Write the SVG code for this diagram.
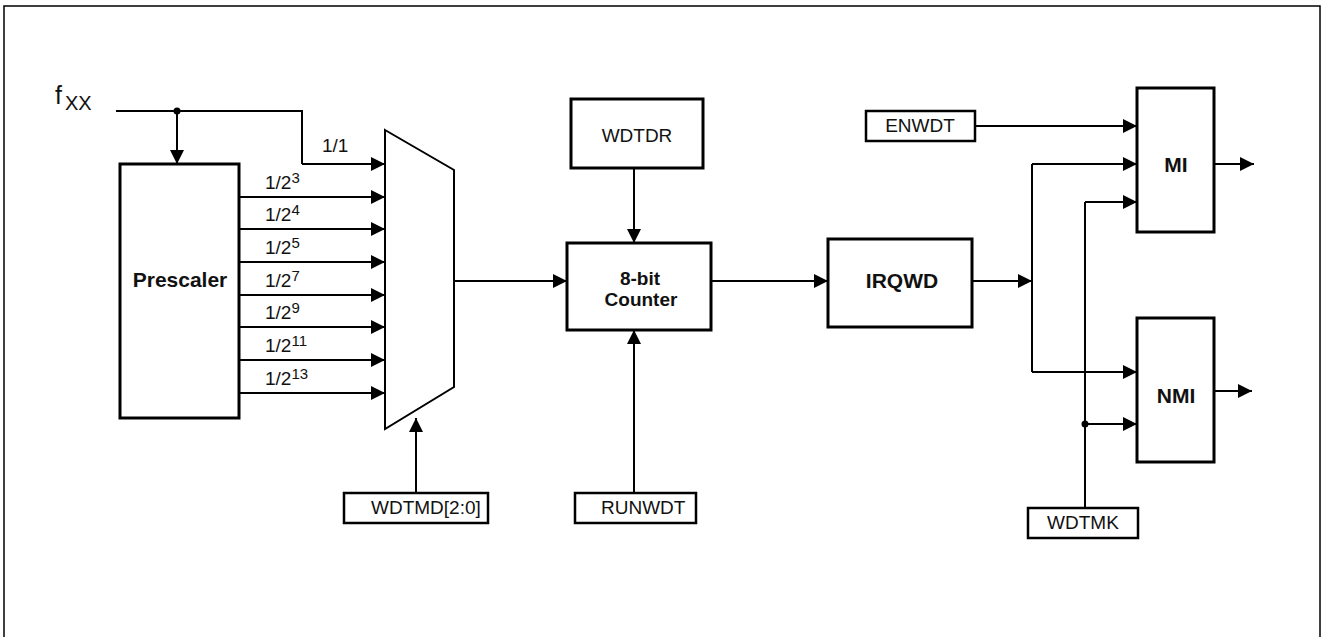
<svg xmlns="http://www.w3.org/2000/svg" width="1322" height="637" viewBox="0 0 1322 637">
<defs>
<marker id="ah" markerUnits="userSpaceOnUse" markerWidth="14" markerHeight="14" refX="14" refY="7" orient="auto">
<path d="M0,0 L14,7 L0,14 z" fill="#000"/>
</marker>
<style>
.box{fill:#fff;stroke:#000;stroke-width:3}
.sbox{fill:#fff;stroke:#000;stroke-width:2.5}
.ln{fill:none;stroke:#000;stroke-width:2}
.ar{fill:none;stroke:#000;stroke-width:2;marker-end:url(#ah)}
.t{font-family:"Liberation Sans",Arial,sans-serif;font-size:19px;fill:#111}
.tl{font-family:"Liberation Sans",Arial,sans-serif;font-size:19px;fill:#111}
.b{font-family:"Liberation Sans",Arial,sans-serif;font-size:21px;font-weight:bold;fill:#111;text-anchor:middle}
.b19{font-family:"Liberation Sans",Arial,sans-serif;font-size:19px;font-weight:bold;fill:#111;text-anchor:middle}
.sup{font-size:15px}
</style>
</defs>
<rect x="4" y="6" width="1316" height="640" fill="#fff" stroke="#000" stroke-width="1.5"/>

<g id="connectors">
<path class="ln" d="M116,111 H302 V164"/>
<path class="ar" d="M302,164 H385"/>
<circle cx="177" cy="111" r="3.5" fill="#000"/>
<path class="ar" d="M177,111 V164"/>
<path class="ar" d="M239,197 H385"/>
<path class="ar" d="M239,229 H385"/>
<path class="ar" d="M239,262 H385"/>
<path class="ar" d="M239,295 H385"/>
<path class="ar" d="M239,327 H385"/>
<path class="ar" d="M239,360 H385"/>
<path class="ar" d="M239,393 H385"/>
<path class="ar" d="M454,281 H567"/>
<path class="ar" d="M416,493 V418"/>
<path class="ar" d="M634,168 V243"/>
<path class="ar" d="M634,493 V330"/>
<path class="ar" d="M711,281 H828"/>
<path class="ar" d="M972,281 H1032"/>
<path class="ln" d="M1032,164 V372"/>
<path class="ar" d="M1032,164 H1137"/>
<path class="ar" d="M1032,372 H1137"/>
<path class="ar" d="M975,126 H1137"/>
<path class="ln" d="M1085,508 V202"/>
<path class="ar" d="M1085,202 H1137"/>
<circle cx="1085" cy="424" r="3.5" fill="#000"/>
<path class="ar" d="M1085,424 H1137"/>
<path class="ar" d="M1209,164 H1254"/>
<path class="ar" d="M1214,391 H1252"/>
</g>

<g id="fxx">
<text x="55" y="104" font-family="'Liberation Sans',Arial,sans-serif" font-size="25" fill="#111">f</text>
<text x="65" y="110" font-family="'Liberation Sans',Arial,sans-serif" font-size="20" fill="#111">XX</text>
</g>

<g id="prescaler">
<rect class="box" x="120" y="164" width="119" height="254"/>
<text class="b" x="180" y="287">Prescaler</text>
</g>

<g id="ratios">
<text class="tl" x="322" y="152">1/1</text>
<text class="tl" x="265" y="189">1/2<tspan class="sup" dy="-6">3</tspan></text>
<text class="tl" x="265" y="221">1/2<tspan class="sup" dy="-6">4</tspan></text>
<text class="tl" x="265" y="254">1/2<tspan class="sup" dy="-6">5</tspan></text>
<text class="tl" x="265" y="287">1/2<tspan class="sup" dy="-6">7</tspan></text>
<text class="tl" x="265" y="319">1/2<tspan class="sup" dy="-6">9</tspan></text>
<text class="tl" x="265" y="352">1/2<tspan class="sup" dy="-6">11</tspan></text>
<text class="tl" x="265" y="385">1/2<tspan class="sup" dy="-6">13</tspan></text>
</g>

<g id="mux">
<path d="M385,130 L454,170 L454,387 L385,429 Z" fill="#fff" stroke="#000" stroke-width="2"/>
</g>

<g id="wdtmd">
<rect class="sbox" x="344" y="493" width="144" height="30"/>
<text class="t" x="371" y="514">WDTMD[2:0]</text>
</g>

<g id="wdtdr">
<rect class="box" x="571" y="99" width="132" height="69"/>
<text class="t" x="637" y="142" text-anchor="middle">WDTDR</text>
</g>

<g id="counter">
<rect class="box" x="567" y="243" width="144" height="87"/>
<text class="b19" x="640" y="285">8-bit</text>
<text class="b19" x="641" y="306">Counter</text>
</g>

<g id="runwdt">
<rect class="sbox" x="575" y="493" width="121" height="30"/>
<text class="t" x="601" y="514">RUNWDT</text>
</g>

<g id="irqwd">
<rect class="box" x="828" y="239" width="144" height="88"/>
<text class="b" x="902" y="288">IRQWD</text>
</g>

<g id="enwdt">
<rect class="sbox" x="866" y="111" width="109" height="30"/>
<text class="t" x="920" y="132" text-anchor="middle">ENWDT</text>
</g>

<g id="mi">
<rect class="box" x="1137" y="88" width="77" height="144"/>
<text class="b" x="1176" y="172">MI</text>
</g>

<g id="nmi">
<rect class="box" x="1137" y="318" width="77" height="144"/>
<text class="b" x="1176" y="403">NMI</text>
</g>

<g id="wdtmk">
<rect class="sbox" x="1028" y="508" width="110" height="30"/>
<text class="t" x="1083" y="529" text-anchor="middle">WDTMK</text>
</g>
</svg>
